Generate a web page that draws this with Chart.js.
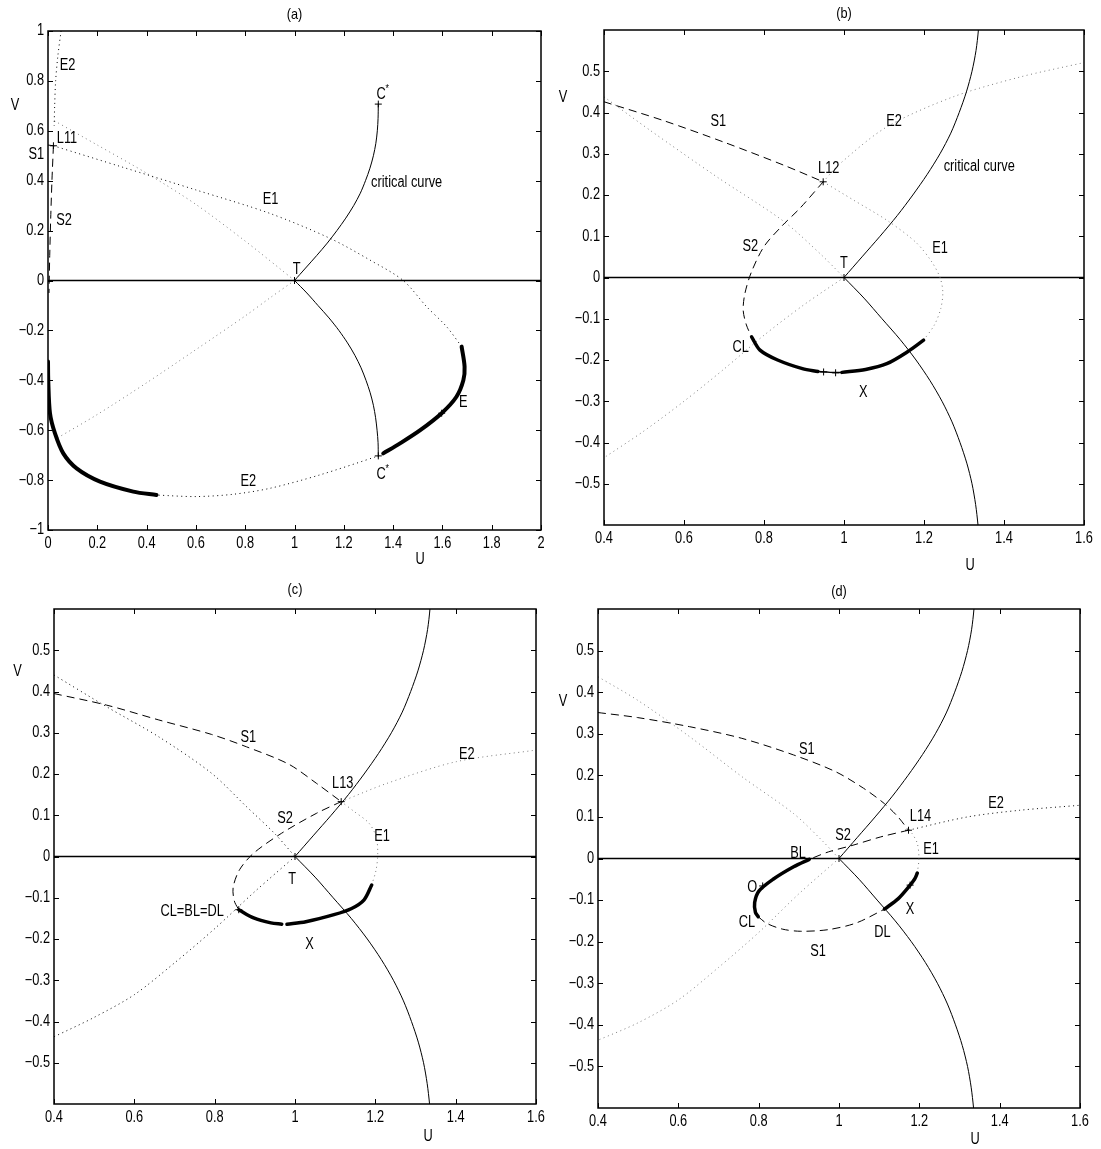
<!DOCTYPE html>
<html>
<head>
<meta charset="utf-8">
<script src="https://cdn.jsdelivr.net/npm/chart.js@4.4.0/dist/chart.umd.min.js"></script>
<style>
  body { margin: 0; background: #fff; }
  #page { position: relative; width: 1101px; height: 1149px; }
  .panel { position: absolute; }
</style>
</head>
<body>
<div id="page">
  <div class="panel" style="left:0;top:0"><canvas id="pa" width="550" height="580"></canvas></div>
  <div class="panel" style="left:550px;top:0"><canvas id="pb" width="551" height="580"></canvas></div>
  <div class="panel" style="left:0;top:580px"><canvas id="pc" width="550" height="569"></canvas></div>
  <div class="panel" style="left:550px;top:580px"><canvas id="pd" width="551" height="569"></canvas></div>
</div>
<script>
// ---- curves, as [U, V] pairs ----

// critical curve, C* (top) -> T -> C* (bottom); same in every panel
const critUpper = [[1.34,0.707],[1.339,0.65],[1.336,0.6],[1.33,0.55],[1.32,0.5],[1.306,0.45],[1.288,0.4],[1.267,0.35],[1.24,0.3],[1.208,0.25],[1.172,0.2],[1.133,0.15],[1.09,0.1],[1.045,0.05],[1,0]];
const critLower = [[1,0],[1.05,-0.05],[1.095,-0.1],[1.14,-0.15],[1.18,-0.2],[1.215,-0.25],[1.245,-0.3],[1.27,-0.35],[1.29,-0.4],[1.307,-0.45],[1.32,-0.5],[1.329,-0.55],[1.335,-0.6],[1.339,-0.65],[1.34,-0.707]];

// (a)
const aE2Steep = [[0.053,1.0],[0.04,0.9],[0.031,0.8],[0.027,0.7],[0.025,0.62]];
const aS1 = [[0,0.543],[0.022,0.54]];
const aS2 = [[0.022,0.54],[0.016,0.4],[0.011,0.25],[0.007,0.1],[0.004,-0.05]];
const aE1 = [[0.022,0.54],[0.3,0.455],[0.6,0.363],[0.9,0.269],[1.144,0.169],[1.306,0.082],[1.441,0],[1.536,-0.105],[1.617,-0.185],[1.678,-0.265]];
const aThickRight = [[1.678,-0.265],[1.69,-0.345],[1.685,-0.4],[1.657,-0.466],[1.597,-0.532],[1.51,-0.6],[1.428,-0.653],[1.36,-0.693]];
const aE2Lower = [[1.36,-0.693],[1.34,-0.703],[1.1,-0.78],[0.9,-0.833],[0.75,-0.857],[0.6,-0.866],[0.44,-0.86]];
const aThickLeft = [[0.44,-0.86],[0.346,-0.846],[0.211,-0.806],[0.116,-0.753],[0.062,-0.693],[0.028,-0.612],[0.008,-0.532],[0.001,-0.4],[0,-0.325]];
const aCrossUpper = [[0.026,0.64],[0.2,0.543],[0.4,0.43],[0.6,0.305],[0.8,0.158],[0.94,0.048],[1,0]];
const aCrossLower = [[1,0],[0.9,-0.07],[0.8,-0.142],[0.6,-0.277],[0.4,-0.41],[0.2,-0.537],[0.035,-0.633]];
const aMarks = [[0.022,0.54],[1.34,0.707],[1.34,-0.703],[1,0],[1.597,-0.532]];
const aLabels = [["E2",0.079,0.861],["L11",0.077,0.567],["S1",-0.047,0.503],["S2",0.065,0.24],["E1",0.903,0.323],
  ["critical curve",1.455,0.392],["C*",1.36,0.746],["T",1.009,0.042],["E",1.685,-0.49],["C*",1.36,-0.776],["E2",0.813,-0.806]];

// (b)
const bS1 = [[0.4,0.426],[0.55,0.38],[0.7,0.328],[0.85,0.272],[0.948,0.232]];
const bS2 = [[0.948,0.232],[0.89,0.168],[0.845,0.125],[0.8,0.075],[0.768,0.012],[0.752,-0.04],[0.748,-0.08],[0.756,-0.115],[0.769,-0.144]];
const bThick1 = [[0.769,-0.144],[0.79,-0.176],[0.834,-0.2],[0.896,-0.221],[0.935,-0.228]];
const bThin = [[0.935,-0.228],[0.965,-0.23],[0.995,-0.23]];
const bThick2 = [[0.995,-0.23],[1.054,-0.223],[1.107,-0.209],[1.159,-0.18],[1.199,-0.152]];
const bE1 = [[1.199,-0.152],[1.226,-0.115],[1.242,-0.075],[1.247,-0.035],[1.24,0],[1.218,0.04],[1.18,0.085],[1.11,0.137],[1.025,0.187],[0.948,0.232]];
const bE2 = [[0.948,0.232],[0.99,0.276],[1.107,0.365],[1.273,0.438],[1.44,0.486],[1.6,0.521]];
const bCrossUpper = [[0.4,0.438],[0.515,0.357],[0.682,0.244],[0.848,0.137],[0.94,0.058],[1,0]];
const bCrossLower = [[1,0],[0.9,-0.066],[0.8,-0.14],[0.7,-0.222],[0.6,-0.3],[0.5,-0.372],[0.4,-0.437]];
const bMarks = [[0.948,0.232],[1,0],[0.949,-0.229],[0.979,-0.231]];
const bLabels = [["S1",0.686,0.377],["L12",0.962,0.264],["S2",0.766,0.074],["E2",1.125,0.377],["critical curve",1.338,0.268],
  ["E1",1.24,0.07],["T",1.0,0.034],["CL",0.742,-0.17],["X",1.048,-0.278]];

// (c)
const cS1 = [[0.4,0.395],[0.531,0.367],[0.661,0.331],[0.792,0.296],[0.879,0.266],[0.984,0.224],[1.054,0.177],[1.115,0.133]];
const cS2 = [[1.115,0.133],[1.054,0.105],[0.966,0.056],[0.897,0.008],[0.862,-0.032],[0.846,-0.075],[0.849,-0.108],[0.86,-0.129]];
const cThick1 = [[0.86,-0.129],[0.897,-0.149],[0.94,-0.161],[0.967,-0.164]];
const cThick2 = [[0.98,-0.164],[1.027,-0.158],[1.097,-0.141],[1.141,-0.126],[1.172,-0.105],[1.191,-0.069]];
const cE1 = [[1.191,-0.069],[1.202,-0.032],[1.206,0.008],[1.202,0.048],[1.184,0.081],[1.146,0.11],[1.115,0.133]];
const cE2 = [[1.115,0.133],[1.228,0.177],[1.402,0.23],[1.6,0.258]];
const cCrossUpper = [[0.4,0.44],[0.531,0.363],[0.661,0.29],[0.792,0.202],[0.879,0.121],[0.949,0.056],[1,0]];
const cCrossLower = [[1,0],[0.9,-0.085],[0.8,-0.175],[0.7,-0.258],[0.6,-0.335],[0.5,-0.39],[0.4,-0.437]];
const cMarks = [[1.115,0.133],[0.86,-0.129],[1,0]];
const cLabels = [["S1",0.884,0.289],["L13",1.119,0.176],["E2",1.428,0.246],["S2",0.975,0.093],["E1",1.217,0.048],
  ["T",0.993,-0.056],["CL=BL=DL",0.744,-0.133],["X",1.036,-0.214]];

// (d)
const dS1Upper = [[0.4,0.351],[0.498,0.339],[0.628,0.317],[0.758,0.289],[0.887,0.249],[0.991,0.209],[1.061,0.169],[1.113,0.132],[1.147,0.1],[1.173,0.068]];
const dS2 = [[1.173,0.068],[1.104,0.052],[1.035,0.032],[0.974,0.016],[0.926,-0.002]];
const dThickO = [[0.926,-0.002],[0.887,-0.02],[0.836,-0.05],[0.801,-0.078],[0.79,-0.106],[0.792,-0.13],[0.799,-0.14]];
const dS1Lower = [[0.799,-0.14],[0.82,-0.156],[0.86,-0.17],[0.905,-0.175],[0.974,-0.171],[1.043,-0.155],[1.113,-0.122]];
const dThickX = [[1.113,-0.122],[1.147,-0.097],[1.172,-0.07],[1.188,-0.05],[1.195,-0.035]];
const dE1 = [[1.195,-0.035],[1.199,0],[1.195,0.036],[1.182,0.06],[1.173,0.068]];
const dE2 = [[1.173,0.068],[1.32,0.1],[1.45,0.116],[1.6,0.128]];
const dCrossUpper = [[0.4,0.437],[0.498,0.381],[0.628,0.293],[0.758,0.197],[0.887,0.108],[0.957,0.044],[1,0]];
const dCrossLower = [[1,0],[0.9,-0.085],[0.8,-0.178],[0.7,-0.262],[0.6,-0.34],[0.5,-0.395],[0.4,-0.437]];
const dMarks = [[1.173,0.068],[1,0],[1.177,-0.064],[0.81,-0.066]];
const dLabels = [["S1",0.92,0.262],["L14",1.203,0.1],["E2",1.391,0.132],["S2",1.01,0.054],["BL",0.898,0.012],["E1",1.229,0.022],
  ["O",0.784,-0.07],["CL",0.771,-0.155],["S1",0.948,-0.223],["DL",1.108,-0.179],["X",1.177,-0.122]];

// ---- styling helpers ----
const FAMILY = '"Liberation Sans", Arial, sans-serif';
const DARK = "#000";
const LIGHT = "#7a7a7a";

const pts = (arr) => arr.map(([x, y]) => ({ x, y }));
const solid = (arr, w = 1) => ({
  data: pts(arr), showLine: true, borderColor: "#000", borderWidth: w,
  pointRadius: 0, tension: 0.3, borderCapStyle: "round", borderJoinStyle: "round",
});
const thick = (arr, w) => solid(arr, w);
const dotted = (arr, color) => ({ ...solid(arr), borderColor: color, borderDash: [1, 3.5], borderCapStyle: "butt" });
const dashed = (arr) => ({ ...solid(arr), borderDash: [8, 5], borderCapStyle: "butt" });
const axisLine = (lo, hi) => ({ ...solid([[lo, 0], [hi, 0]], 1.3), tension: 0, borderCapStyle: "butt" });
const marks = (arr) => ({
  data: pts(arr), showLine: false, pointStyle: "cross", pointRadius: 3.5,
  pointBorderColor: "#000", pointBorderWidth: 1,
});

const fmt = (v) => {
  const r = Math.round(v * 10) / 10;
  return (r === 0 ? "0" : String(r)).replace("-", "\u2212");
};

// the printed figure uses a narrow sans; squeeze the glyphs horizontally
function text(ctx, str, x, y, size = 16, align = "center", sx = 0.8) {
  ctx.save();
  ctx.font = size + "px " + FAMILY;
  ctx.textAlign = align;
  ctx.textBaseline = "middle";
  ctx.fillStyle = "#000";
  ctx.translate(x, y);
  ctx.scale(sx, 1);
  ctx.fillText(str, 0, 0);
  ctx.restore();
}

const panels = [
  {
    id: "pa", title: "(a)", titlePos: [294.5, 15], uPos: [420, 560], vPos: [15, 106],
    area: { l: 48, r: 541, t: 31, b: 530 },
    x: [0, 2, 0.2], y: [-1, 1, 0.2], yLabelMax: 1,
    labels: aLabels,
    datasets: [
      marks(aMarks),
      thick(aThickRight, 4), thick(aThickLeft, 4),
      solid(critUpper), solid(critLower),
      dashed(aS1), dashed(aS2),
      dotted(aE1, DARK), dotted(aE2Lower, DARK), dotted(aE2Steep, DARK),
      dotted(aCrossUpper, LIGHT), dotted(aCrossLower, LIGHT),
      axisLine(0, 2),
    ],
  },
  {
    id: "pb", title: "(b)", titlePos: [294, 14], uPos: [420, 566], vPos: [13, 98],
    area: { l: 54, r: 534, t: 30, b: 525 },
    x: [0.4, 1.6, 0.2], y: [-0.6, 0.6, 0.1], yLabelMax: 0.5,
    labels: bLabels,
    datasets: [
      marks(bMarks),
      thick(bThick1, 3.5), solid(bThin, 1.5), thick(bThick2, 3.5),
      solid(critUpper), solid(critLower),
      dashed(bS1), dashed(bS2),
      dotted(bE1, LIGHT), dotted(bE2, LIGHT),
      dotted(bCrossUpper, LIGHT), dotted(bCrossLower, LIGHT),
      axisLine(0.4, 1.6),
    ],
  },
  {
    id: "pc", title: "(c)", titlePos: [295, 10], uPos: [428, 557], vPos: [17.5, 92],
    area: { l: 54, r: 536, t: 29, b: 524 },
    x: [0.4, 1.6, 0.2], y: [-0.6, 0.6, 0.1], yLabelMax: 0.5,
    labels: cLabels,
    datasets: [
      marks(cMarks),
      thick(cThick1, 3.5), thick(cThick2, 3.5),
      solid(critUpper), solid(critLower),
      dashed(cS1), dashed(cS2),
      dotted(cE1, LIGHT), dotted(cE2, LIGHT),
      dotted(cCrossUpper, DARK), dotted(cCrossLower, DARK),
      axisLine(0.4, 1.6),
    ],
  },
  {
    id: "pd", title: "(d)", titlePos: [289, 12], uPos: [425, 560], vPos: [13, 122],
    area: { l: 48, r: 530, t: 29, b: 528 },
    x: [0.4, 1.6, 0.2], y: [-0.6, 0.6, 0.1], yLabelMax: 0.5,
    labels: dLabels,
    datasets: [
      marks(dMarks),
      thick(dThickO, 3.5), thick(dThickX, 3.5),
      solid(critUpper), solid(critLower),
      dashed(dS1Upper), dashed(dS2), dashed(dS1Lower),
      dotted(dE1, LIGHT), dotted(dE2, DARK),
      dotted(dCrossUpper, LIGHT), dotted(dCrossLower, LIGHT),
      axisLine(0.4, 1.6),
    ],
  },
];

// box with inward ticks on all four sides, tick labels, curve names, panel title, axis names
const decor = (p) => ({
  id: "decor",
  afterDraw(chart) {
    const { ctx, chartArea: a, scales: { x, y } } = chart;
    ctx.save();
    ctx.strokeStyle = "#000";
    ctx.lineWidth = 1;
    ctx.beginPath();
    x.ticks.forEach((t) => {
      const px = Math.round(x.getPixelForValue(t.value)) + 0.5;
      ctx.moveTo(px, a.bottom); ctx.lineTo(px, a.bottom - 5);
      ctx.moveTo(px, a.top); ctx.lineTo(px, a.top + 5);
    });
    y.ticks.forEach((t) => {
      const py = Math.round(y.getPixelForValue(t.value)) + 0.5;
      ctx.moveTo(a.left, py); ctx.lineTo(a.left + 5, py);
      ctx.moveTo(a.right, py); ctx.lineTo(a.right - 5, py);
    });
    ctx.stroke();
    ctx.lineWidth = 1.5;
    ctx.strokeRect(a.left, a.top, a.right - a.left, a.bottom - a.top);
    ctx.restore();

    x.ticks.forEach((t) => text(ctx, t.label, x.getPixelForValue(t.value), a.bottom + 14));
    y.ticks.forEach((t) => text(ctx, t.label, a.left - 4, y.getPixelForValue(t.value), 16, "right"));

    p.labels.forEach(([txt, u, v]) => {
      const px = x.getPixelForValue(u);
      const py = y.getPixelForValue(v);
      if (txt.endsWith("*")) {
        text(ctx, txt.slice(0, -1), px - 2, py);
        text(ctx, "*", px + 4, py - 5, 11);
      } else {
        text(ctx, txt, px, py);
      }
    });
    text(ctx, p.title, p.titlePos[0], p.titlePos[1], 15, "center", 0.85);
    text(ctx, "U", p.uPos[0], p.uPos[1]);
    text(ctx, "V", p.vPos[0], p.vPos[1]);
  },
});

function makeChart(p) {
  const canvas = document.getElementById(p.id);
  const a = p.area;
  return new Chart(canvas, {
    type: "scatter",
    data: { datasets: p.datasets },
    options: {
      responsive: false,
      animation: false,
      devicePixelRatio: 1,
      layout: { padding: { left: 0, top: a.t, right: canvas.width - a.r, bottom: 0 } },
      plugins: { legend: { display: false }, tooltip: { enabled: false } },
      scales: {
        x: {
          min: p.x[0], max: p.x[1],
          grid: { display: false }, border: { display: false },
          ticks: { display: false, stepSize: p.x[2], autoSkip: false, maxTicksLimit: 30, callback: fmt },
          afterFit: (s) => { s.height = canvas.height - a.b; },
        },
        y: {
          min: p.y[0], max: p.y[1],
          grid: { display: false }, border: { display: false },
          ticks: { display: false, stepSize: p.y[2], autoSkip: false, maxTicksLimit: 30, callback: fmt },
          afterBuildTicks: (s) => { s.ticks = s.ticks.filter((t) => Math.abs(t.value) <= p.yLabelMax + 1e-9); },
          afterFit: (s) => { s.width = a.l; },
        },
      },
    },
    plugins: [decor(p)],
  });
}

panels.forEach(makeChart);
</script>
</body>
</html>
